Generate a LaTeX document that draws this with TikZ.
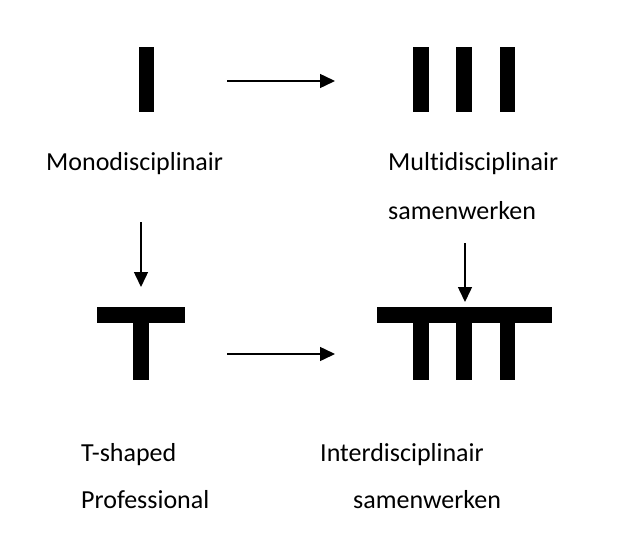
\documentclass[tikz,border=0pt]{standalone}
\usepackage{fontspec}
\setmainfont[RawFeature={-liga;-clig;-dlig}]{Carlito}
\usetikzlibrary{arrows.meta}
\tikzset{
  bar/.style={fill=black,inner sep=0,minimum width=15.5pt},
  balk/.style={fill=black,inner sep=0,minimum height=16pt},
  lbl/.style={anchor=base west,inner sep=0,font=\fontsize{26}{30}\selectfont},
  pijl/.style={line width=1.5pt,-{Triangle[length=15pt,width=14pt]}}
}
\begin{document}
\begin{tikzpicture}[x=1pt,y=-1pt]
  \useasboundingbox (0,0) rectangle (640,538);
  % I
  \node [bar,minimum height=65pt] (mono) at (146.5,79.5) {};
  % III
  \node [bar,minimum height=65pt] (multi1) at (421,79.5) {};
  \node [bar,minimum height=65pt] (multi2) at (464,79.5) {};
  \node [bar,minimum height=65pt] (multi3) at (507.5,79.5) {};
  % T
  \node [balk,minimum width=88pt] (tbalk) at (141,315) {};
  \node [bar,minimum height=57pt,anchor=north] (tpoot) at (tbalk.south) {};
  % TTT
  \node [balk,minimum width=175pt] (ibalk) at (464.5,315) {};
  \node [bar,minimum height=57pt,anchor=north] (ipoot1) at (421,323) {};
  \node [bar,minimum height=57pt,anchor=north] (ipoot2) at (464,323) {};
  \node [bar,minimum height=57pt,anchor=north] (ipoot3) at (507.5,323) {};
  % labels
  \node [lbl] (mono-txt) at (46,170) {Monodisciplinair};
  \node [lbl] (multi-txt) at (388,170) {Multidisciplinair};
  \node [lbl] (multi-txt2) at (388,219) {samenwerken};
  \node [lbl] (t-txt) at (81,461) {T-shaped};
  \node [lbl] (t-txt2) at (81,508) {Professional};
  \node [lbl] (inter-txt) at (320,461) {Interdisciplinair};
  \node [lbl] (inter-txt2) at (353,508) {samenwerken};
  % pijlen
  \coordinate (p1) at (227,81);
  \coordinate (p2) at (335,81);
  \coordinate (p3) at (141,222);
  \coordinate (p4) at (141,287);
  \coordinate (p5) at (227,354);
  \coordinate (p6) at (335,354);
  \coordinate (p7) at (465,243);
  \coordinate (p8) at (465,302);
  \draw [pijl] (p1) -- (p2);
  \draw [pijl] (p3) -- (p4);
  \draw [pijl] (p5) -- (p6);
  \draw [pijl] (p7) -- (p8);
\end{tikzpicture}
\end{document}
